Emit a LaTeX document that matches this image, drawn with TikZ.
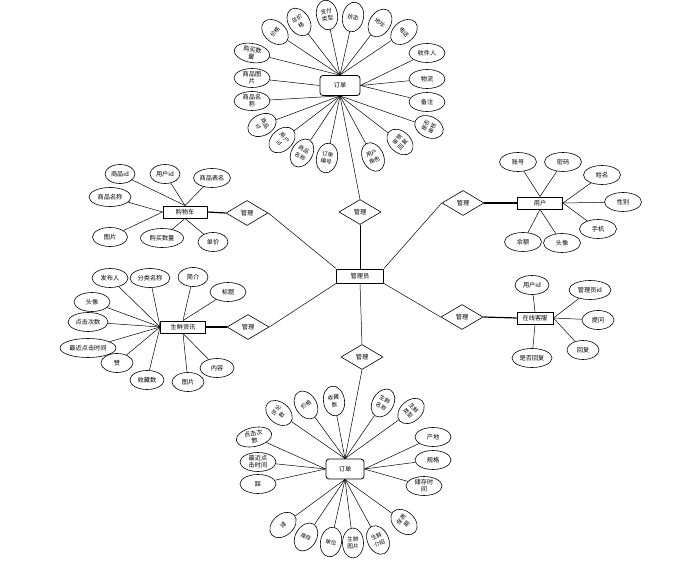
\documentclass[tikz,border=0pt]{standalone}
\usepackage{fontspec}
\newfontfamily\cjk{Noto Sans CJK SC}
\usetikzlibrary{shapes.geometric}
\begin{document}
\begin{tikzpicture}[x=1pt,y=-1pt,
  every node/.style={font=\cjk\fontsize{6.2}{7}\selectfont, inner sep=0pt, align=center},
  attr/.style={ellipse, draw, line width=0.6pt, minimum width=#1, minimum height=19pt},
  attr/.default=36pt,
  rattr/.style={ellipse, draw, line width=0.6pt, minimum width=21pt, minimum height=30pt, font=\cjk\fontsize{5.6}{7.4}\selectfont},
  ent/.style={rectangle, draw, line width=0.9pt, minimum width=#1, minimum height=12pt},
  ent/.default=45pt,
  oent/.style={rectangle, rounded corners=3pt, draw, line width=0.8pt, minimum width=#1, minimum height=20pt},
  rel/.style={diamond, draw, line width=0.6pt, minimum width=42pt, minimum height=25pt},
  ln/.style={line width=0.5pt},
  tk/.style={line width=1.2pt}]
\fill[white] (0,0) rectangle (678,564);
\useasboundingbox (0,0) rectangle (678,564);

% ---------- centre ----------
\node[ent=47pt, minimum height=14pt] (adm) at (360,276) {管理员};
\node[rel] (r1) at (247,213) {管理};
\node[rel] (r2) at (360,212) {管理};
\node[rel] (r3) at (463,203) {管理};
\node[rel] (r4) at (248,327) {管理};
\node[rel] (r5) at (362,357) {管理};
\node[rel] (r6) at (462,317) {管理};

% ---------- top order ----------
\node[oent=40pt] (o1) at (340,85.5) {订单};
\node[rattr, rotate=50] (a1) at (275,32) {价格};
\node[rattr, rotate=33] (a2) at (299,22) {总价\\格};
\node[rattr, rotate=10] (a3) at (327,15) {支付\\类型};
\node[rattr, rotate=-11] (a4) at (353,17) {状态};
\node[rattr, rotate=-32] (a5) at (380,23) {地址};
\node[rattr, rotate=-50] (a6) at (404,32) {电话};
\node[attr] (a7) at (427,53) {收件人};
\node[attr] (a8) at (427,79) {物流};
\node[attr] (a9) at (427,102) {备注};
\node[rattr, rotate=65] (a10) at (429,127) {是否\\审核};
\node[rattr, rotate=47] (a11) at (400,142) {审核\\回复};
\node[rattr, rotate=25] (a12) at (373,157) {用户\\角色};
\node[rattr, rotate=-10] (a13) at (327,158) {订单\\编号};
\node[rattr, rotate=-30] (a14) at (302,153) {商品\\名称};
\node[rattr, rotate=-47] (a15) at (282,140) {用户\\id};
\node[rattr, rotate=-63] (a16) at (262,125) {商品\\id};
\node[attr] (a17) at (252,101) {商品名\\称};
\node[attr] (a18) at (252,78) {商品图\\片};
\node[attr, rotate=-10] (a19) at (252,53) {购买数\\量};
\foreach \n in {a1,a2,a3,a4,a5,a6,a19} \draw[ln] (\n) -- (o1.north);
\foreach \n in {a7,a8,a9} \draw[ln] (\n) -- (o1.east);
\foreach \n in {a10,a11,a12,a13,a14,a15,a16,a17} \draw[ln] (\n) -- (o1.south);
\draw[ln] (a18) -- (o1.west);

% ---------- bottom order ----------
\node[oent=38pt] (o2) at (345,469) {订单};
\node[rattr, rotate=50] (b1) at (279,413) {评论\\数};
\node[rattr, rotate=31] (b2) at (306,405) {价格};
\node[rattr, rotate=9] (b3) at (334,401) {收藏\\数};
\node[rattr, rotate=-30] (b4) at (383,403) {生鲜\\名称};
\node[rattr, rotate=-49] (b5) at (411,411) {生鲜\\类型};
\node[attr, rotate=12] (b6) at (254,437) {点击次\\数};
\node[attr] (b7) at (258,462) {最近点\\击时间};
\node[attr] (b8) at (258,484) {踩};
\node[attr] (b9) at (433,437) {产地};
\node[attr] (b10) at (433,460) {规格};
\node[attr] (b11) at (424,486) {储存时\\间};
\node[rattr, rotate=-48] (b12) at (283,525) {赞};
\node[rattr, rotate=-30] (b13) at (306,537) {库存};
\node[rattr, rotate=-11] (b14) at (331,542) {单位};
\node[rattr] (b15) at (353,543) {生鲜\\图片};
\node[rattr, rotate=25] (b16) at (378,540) {生鲜\\介绍};
\node[rattr, rotate=48] (b17) at (404,522) {保质\\期};
\foreach \n in {b1,b2,b3,b4,b5} \draw[ln] (\n) -- (o2.north);
\foreach \n in {b6,b7,b8} \draw[ln] (\n) -- (o2.west);
\foreach \n in {b9,b10,b11} \draw[ln] (\n) -- (o2.east);
\foreach \n in {b12,b13,b14,b15,b16,b17} \draw[ln] (\n) -- (o2.south);

% ---------- cart ----------
\node[ent=44pt] (c) at (185,212) {购物车};
\node[attr=30pt] (c1) at (120,174) {商品id};
\node[attr=30pt] (c2) at (165,174) {用户id};
\node[attr=37pt] (c3) at (212,178) {商品表名};
\node[attr=42pt] (c4) at (110,197) {商品名称};
\node[attr=35pt] (c5) at (110,237) {图片};
\node[attr=43pt] (c6) at (162,238) {购买数量};
\node[attr=30pt] (c7) at (213,242) {单价};
\foreach \n in {c1,c2,c3} \draw[ln] (\n) -- (c.north);
\foreach \n in {c4,c5} \draw[ln] (\n) -- (c.west);
\foreach \n in {c6,c7} \draw[ln] (\n) -- (c.south);

% ---------- user ----------
\node[ent=45pt] (u) at (540,203) {用户};
\node[attr=37pt] (u1) at (518,162) {账号};
\node[attr=37pt] (u2) at (563,162) {密码};
\node[attr=37pt] (u3) at (602,175) {姓名};
\node[attr=37pt] (u4) at (623,202) {性别};
\node[attr=37pt] (u5) at (598,229) {手机};
\node[attr=37pt] (u6) at (523,242) {余额};
\node[attr=37pt] (u7) at (562,243) {头像};
\foreach \n in {u1,u2} \draw[ln] (\n) -- (u.north);
\foreach \n in {u3,u4,u5} \draw[ln] (\n) -- (u.east);
\foreach \n in {u6,u7} \draw[ln] (\n) -- (u.south);

% ---------- news ----------
\node[ent=45pt] (n) at (183,327) {生鲜资讯};
\node[attr=36pt] (n1) at (110,278) {发布人};
\node[attr=40pt] (n2) at (150,278) {分类名称};
\node[attr=30pt] (n3) at (193,277) {简介};
\node[attr=36pt] (n4) at (228,292) {标题};
\node[attr=36pt] (n5) at (92,302) {头像};
\node[attr=40pt] (n6) at (88,322) {点击次数};
\node[attr=56pt] (n7) at (88,348) {最近点击时间};
\node[attr=32pt] (n8) at (117,363) {赞};
\node[attr=34pt] (n9) at (147,380) {收藏数};
\node[attr=32pt] (n10) at (188,382) {图片};
\node[attr=34pt] (n11) at (217,368) {内容};
\foreach \n in {n1,n2,n5,n6,n7,n8,n9} \draw[ln] (\n) -- (n.west);
\foreach \n in {n3,n4} \draw[ln] (\n) -- (n.north);
\foreach \n in {n10,n11} \draw[ln] (\n) -- (n.south);

% ---------- service ----------
\node[ent=36pt] (k) at (535,318) {在线客服};
\node[attr=34pt] (k1) at (532,285) {用户id};
\node[attr=42pt] (k2) at (590,290) {管理员id};
\node[attr=32pt] (k3) at (598,320) {提问};
\node[attr=32pt] (k4) at (583,350) {回复};
\node[attr=40pt] (k5) at (532,358) {是否回复};
\draw[ln] (k1) -- (k.north);
\foreach \n in {k2,k3,k4} \draw[ln] (\n) -- (k.east);
\draw[ln] (k5) -- (k.south);

% ---------- relations ----------
\draw[tk] (c.east) -- (r1.west);
\draw[tk] (u.west) -- (r3.east);
\draw[tk] (n.east) -- (r4.west);
\draw[tk] (k.west) -- (r6.east);
\draw[ln] (r1.east) -- (adm.north west);
\draw[ln] (r4.east) -- (adm.south west);
\draw[ln] (r3.west) -- (adm.north east);
\draw[ln] (r6.west) -- (adm.south east);
\draw[ln] (o1.south) -- (r2.north);
\draw[ln] (r2.south) -- (adm.north);
\draw[ln] (adm.south) -- (r5.north);
\draw[ln] (r5.south) -- (o2.north);
\end{tikzpicture}
\end{document}
